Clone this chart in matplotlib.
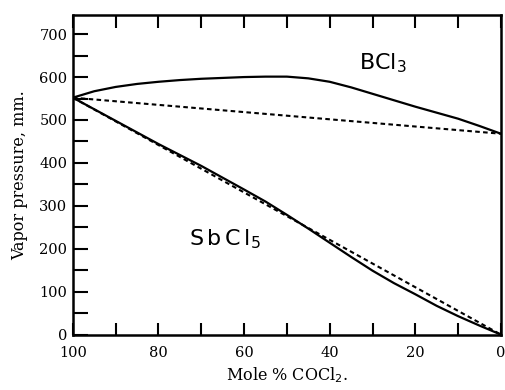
import numpy as np
import matplotlib.pyplot as plt
from matplotlib.ticker import MultipleLocator

# mole % COCl2 (axis runs 100 -> 0)
mole_bcl3 = [100, 95, 90, 85, 80, 75, 70, 65, 60, 55, 50, 45, 40, 35, 30, 25, 20, 15, 10, 5, 0]
p_bcl3 = [552, 567, 577, 584, 589, 593, 596, 598, 600, 601, 601, 597, 589, 576, 561, 546, 531, 517, 503, 486, 468]

mole_sbcl5 = [100, 90, 80, 70, 60, 55, 50, 45, 40, 35, 30, 25, 20, 15, 10, 5, 0]
p_sbcl5 = [552, 498, 444, 393, 338, 310, 279, 247, 214, 181, 149, 120, 94, 67, 43, 21, 0]

# ideal (Raoult) lines
mole_ideal = [100, 0]
ideal_bcl3 = [552, 468]
ideal_sbcl5 = [552, 0]

serif = ['DejaVu Serif']

fig = plt.figure(figsize=(5.06, 3.90), dpi=100)
ax = fig.add_axes([0.144, 0.142, 0.846, 0.820])

ax.plot(mole_bcl3, p_bcl3, color='black', lw=1.6)
ax.plot(mole_sbcl5, p_sbcl5, color='black', lw=1.6)
ax.plot(mole_ideal, ideal_bcl3, color='black', lw=1.5, ls=(0, (2.2, 1.6)))
ax.plot(mole_ideal, ideal_sbcl5, color='black', lw=1.5, ls=(0, (2.2, 1.6)))

ax.text(27.5, 632, r'BCl$_3$', fontsize=16, family='DejaVu Sans',
        ha='center', va='center')
ax.text(64.5, 222, r'S$\,$b$\,$C$\,$l$_5$', fontsize=16, family='DejaVu Sans',
        ha='center', va='center')

ax.set_xlim(100, 0)
ax.set_ylim(0, 745)
ax.xaxis.set_major_locator(MultipleLocator(20))
ax.xaxis.set_minor_locator(MultipleLocator(10))
ax.yaxis.set_major_locator(MultipleLocator(100))
ax.yaxis.set_minor_locator(MultipleLocator(50))

ax.tick_params(which='both', direction='in', width=1.5, length=9,
               top=True, right=False, labelsize=10.5)
ax.tick_params(axis='x', which='both', pad=8)
ax.tick_params(axis='y', which='both', pad=4, length=11)
for lab in ax.get_xticklabels() + ax.get_yticklabels():
    lab.set_family(serif)

for s in ax.spines.values():
    s.set_linewidth(1.8)

ax.set_xlabel('Mole % COCl$_2$.', family=serif, fontsize=11.5, labelpad=4)
ax.set_ylabel('Vapor pressure, mm.', family=serif, fontsize=11.5, labelpad=8)

fig.savefig('out.png', dpi=100)
